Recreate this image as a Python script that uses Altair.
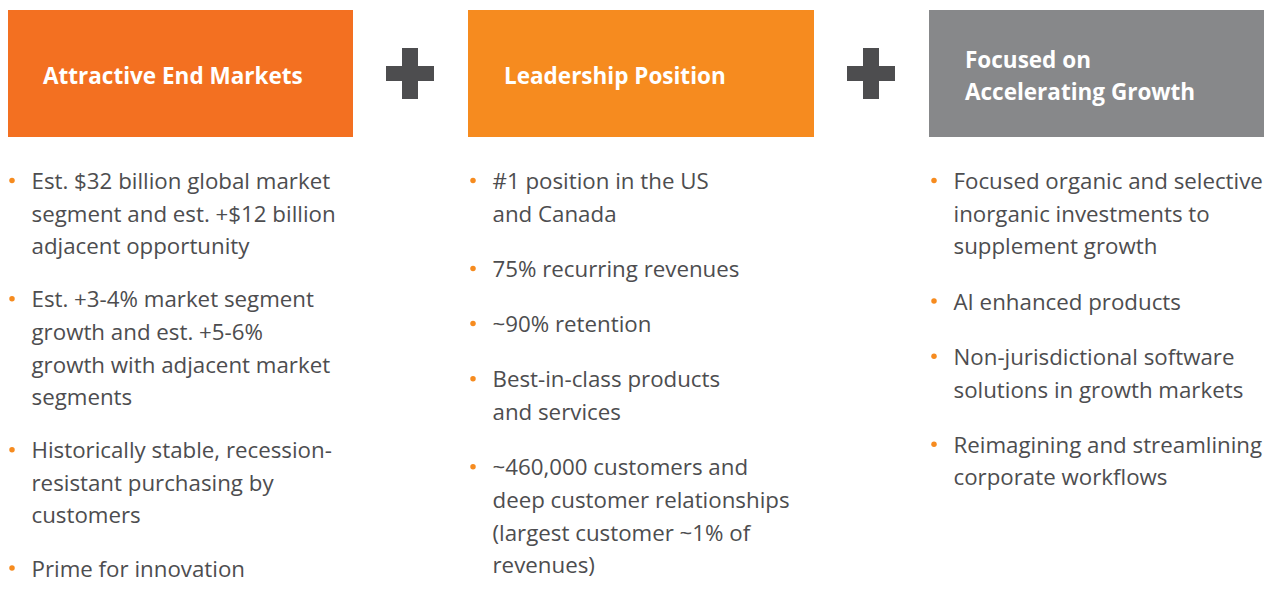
import altair as alt
import pandas as pd

# ---- content ----
headers = ["Attractive End Markets", "Leadership Position", "Focused on\nAccelerating Growth"]
header_colors = ["#F37021", "#F68B1F", "#87888A"]

col1_bullets = [
    ["Est. $32 billion global market", "segment and est. +$12 billion", "adjacent opportunity"],
    ["Est. +3-4% market segment", "growth and est. +5-6%", "growth with adjacent market", "segments"],
    ["Historically stable, recession-", "resistant purchasing by", "customers"],
    ["Prime for innovation"],
]
col2_bullets = [
    ["#1 position in the US", "and Canada"],
    ["75% recurring revenues"],
    ["~90% retention"],
    ["Best-in-class products", "and services"],
    ["~460,000 customers and", "deep customer relationships", "(largest customer ~1% of", "revenues)"],
]
col3_bullets = [
    ["Focused organic and selective", "inorganic investments to", "supplement  growth"],
    ["AI enhanced products"],
    ["Non-jurisdictional software", "solutions in growth markets"],
    ["Reimagining and streamlining", "corporate workflows"],
]
columns = [col1_bullets, col2_bullets, col3_bullets]

# ---- layout ----
W, H = 1272, 590
M = 8
col_left = [7, 468, 929]
box_w = 346
box_top, box_bottom = 10, 137
text_color = "#4D4D4F"
plus_color = "#4D4D4F"
bullet_color = "#F68B1F"
FONT = "Open Sans"

first_base = 189
line_steps = [32.6, 32.7, 32.7]
bullet_gaps = [20.5, 22.5, 22.5]

boxes = pd.DataFrame({
    "x": col_left,
    "x2": [min(c + box_w, W) for c in col_left],
    "y": [box_top] * 3,
    "y2": [box_bottom] * 3,
    "color": header_colors,
})

hrows = []
for i, h in enumerate(headers):
    parts = h.split("\n")
    bases = [84] if len(parts) == 1 else [68, 100]
    for p, b in zip(parts, bases):
        hrows.append({"x": col_left[i] + 36, "y": b, "t": p})
htext = pd.DataFrame(hrows)

rows, dots = [], []
for i, col in enumerate(columns):
    y = first_base
    for bullet in col:
        dots.append({"x": col_left[i] + 5, "y": y - 8.5})
        for line in bullet:
            rows.append({"x": col_left[i] + 24.5, "y": y, "t": line})
            y += line_steps[i]
        y += bullet_gaps[i]
body = pd.DataFrame(rows)
dots = pd.DataFrame(dots)

pluses = []
for cx, cy in [(410, 73.5), (871, 73.5)]:
    pluses.append({"x": cx - 8, "x2": cx + 8, "y": cy - 25.5, "y2": cy + 25.5})
    pluses.append({"x": cx - 24, "x2": cx + 24, "y": cy - 7.5, "y2": cy + 7.5})
pluses = pd.DataFrame(pluses)

xs = alt.Scale(domain=[0, W], range=[0, W], nice=False, zero=False)
ys = alt.Scale(domain=[0, H], range=[0, H], nice=False, zero=False)

def X(f="x"):
    return alt.X(f + ":Q", scale=xs, axis=None)

def Y(f="y"):
    return alt.Y(f + ":Q", scale=ys, axis=None)

box_layer = alt.Chart(boxes).mark_rect().encode(
    x=X(), x2="x2:Q", y=Y(), y2="y2:Q",
    color=alt.Color("color:N", scale=None),
)
plus_layer = alt.Chart(pluses).mark_rect(color=plus_color).encode(
    x=X(), x2="x2:Q", y=Y(), y2="y2:Q",
)
head_layer = alt.Chart(htext).mark_text(
    align="left", baseline="alphabetic", font=FONT, fontSize=22.5,
    fontWeight="bold", color="white",
).encode(x=X(), y=Y(), text="t:N")
body_layer = alt.Chart(body).mark_text(
    align="left", baseline="alphabetic", font=FONT, fontSize=22.3,
    color=text_color,
).encode(x=X(), y=Y(), text="t:N")
dot_layer = alt.Chart(dots).mark_point(
    shape="circle", filled=True, size=30, color=bullet_color, opacity=1,
).encode(x=X(), y=Y())

chart = alt.layer(box_layer, plus_layer, head_layer, body_layer, dot_layer).properties(
    width=W, height=H,
    autosize=alt.AutoSizeParams(type="none"),
    padding={"left": -M, "right": -M, "top": -M, "bottom": -M},
    background="white",
).configure_view(stroke=None)

chart.save("out.html", embed_options={"renderer": "svg", "actions": False})
